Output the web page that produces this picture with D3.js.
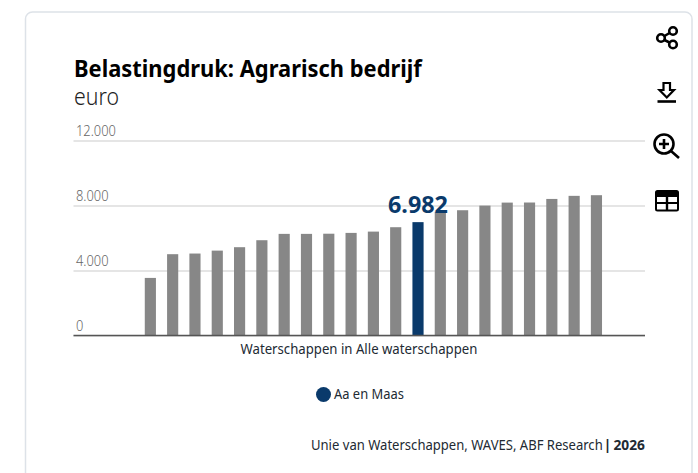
<!DOCTYPE html>
<html><head><meta charset="utf-8">
<script src="https://cdn.jsdelivr.net/npm/d3@7"></script>
<style>html,body{margin:0;background:#fff}svg{display:block}text{font-family:"Noto Sans",sans-serif}</style>
</head><body><svg id="c" width="698" height="473"></svg>
<script>
const titleText = "Belastingdruk: Agrarisch bedrijf";
const subtitleText = "euro";
const xLabel = "Waterschappen in Alle waterschappen";
const legendLabel = "Aa en Maas";
const sourceText = "Unie van Waterschappen, WAVES, ABF Research";
const sourceSep = "|";
const sourceYear = "2026";
const yTicks = [0, 4000, 8000, 12000];
const categories = d3.range(21);
const values = [3550,5010,5050,5230,5440,5870,6260,6260,6270,6320,6400,6670,6982,7620,7715,8000,8185,8190,8410,8600,8640];
const highlightIndex = 12;

const svg = d3.select("#c");
const navy = "#0a3a6b", grey = "#878787", ink = "#222a33";

// place a text with its left edge at x, squeezed horizontally to the wanted width
function fitted(str, left, base, width, size, weight, fill) {
  const t = svg.append("text").attr("font-size",size).attr("font-weight",weight).attr("fill",fill).text(str);
  const k = width / t.node().getComputedTextLength();
  t.attr("transform",`translate(${left},${base}) scale(${k},1)`);
  return t;
}

svg.append("path").attr("d","M25.5 473V19a7 7 0 0 1 7-7H685a7 7 0 0 1 7 7V473").attr("fill","none").attr("stroke","#dde2e8").attr("stroke-width",1.5);

fitted(titleText, 74, 77, 348, 23, 700, "#000");
fitted(subtitleText, 74, 104.5, 45, 24, 300, "#222");

const y = d3.scaleLinear().domain([0,12000]).range([335.6,140.6]);
const x = d3.scaleBand().domain(categories).range([139.2,607.6]).paddingInner(0.5).paddingOuter(0.25);
const nl = d3.formatLocale({decimal:",",thousands:".",grouping:[3],currency:["€",""]});
const fmt = nl.format(",d");

const gy = svg.append("g").attr("transform","translate(73.5,0)")
  .call(d3.axisLeft(y).tickValues(yTicks).tickFormat(fmt).tickSize(-571.5));
gy.select(".domain").remove();
gy.selectAll(".tick line").attr("stroke","#dcdcdc").attr("stroke-width",1.5);
gy.selectAll(".tick text").attr("x",2.5).attr("dy",0).attr("y",-5).attr("text-anchor","start").attr("font-size",14).attr("font-weight",300).attr("fill","#666").style("font-family",'"Noto Sans",sans-serif')
  .attr("lengthAdjust","spacingAndGlyphs").attr("textLength",function(){return this.getComputedTextLength()*0.92;});

svg.append("g").selectAll("rect").data(values).join("rect")
  .attr("x",(d,i)=>x(i)).attr("width",x.bandwidth())
  .attr("y",d=>y(d)).attr("height",d=>y(0)-y(d))
  .attr("fill",(d,i)=>i===highlightIndex?navy:grey);

svg.append("line").attr("x1",73.5).attr("x2",645).attr("y1",y(0)).attr("y2",y(0)).attr("stroke","#555").attr("stroke-width",1.5);

fitted(fmt(values[highlightIndex]), x(highlightIndex)+x.bandwidth()/2-30, 212.5, 60, 24, 700, navy);

fitted(xLabel, 240.5, 354, 237, 14, 400, ink);

svg.append("circle").attr("cx",323.5).attr("cy",394.5).attr("r",7.5).attr("fill",navy);
fitted(legendLabel, 334, 399, 70, 14, 400, ink);

fitted(sourceText, 311, 450, 292, 14, 400, ink);
fitted(sourceSep, 603.5, 450, 8, 14, 700, ink);
fitted(sourceYear, 613.5, 450, 31.5, 14, 700, ink);

// toolbar icons
const ic = svg.append("g").attr("fill","none").attr("stroke","#000").attr("stroke-width",2.6);
ic.append("circle").attr("cx",661).attr("cy",38).attr("r",3.8);
ic.append("circle").attr("cx",673).attr("cy",31).attr("r",3.8);
ic.append("circle").attr("cx",673).attr("cy",44.5).attr("r",3.8);
ic.append("path").attr("d","M664.5 36L669.5 33M664.5 40L669.5 42.5");
ic.append("path").attr("stroke-width",2.2).attr("d","M663.5 83H670V90H674L666.8 97.5L659.5 90H663.5Z");
ic.append("path").attr("d","M657.5 101.5H676");
ic.append("circle").attr("cx",664).attr("cy",144).attr("r",9.5);
ic.append("path").attr("d","M659 144H669M664 139V149M671 151L679 158");
svg.append("path").attr("fill","#000").attr("fill-rule","evenodd")
  .attr("d","M657.5 190H676.5a2.5 2.5 0 0 1 2.5 2.5V209a2.5 2.5 0 0 1-2.5 2.5H657.5a2.5 2.5 0 0 1-2.5-2.5V192.5a2.5 2.5 0 0 1 2.5-2.5ZM657 197V202H665.8V197ZM668.2 197V202H677V197ZM657 204V209.5H665.8V204ZM668.2 204V209.5H677V204Z");
</script></body></html>
